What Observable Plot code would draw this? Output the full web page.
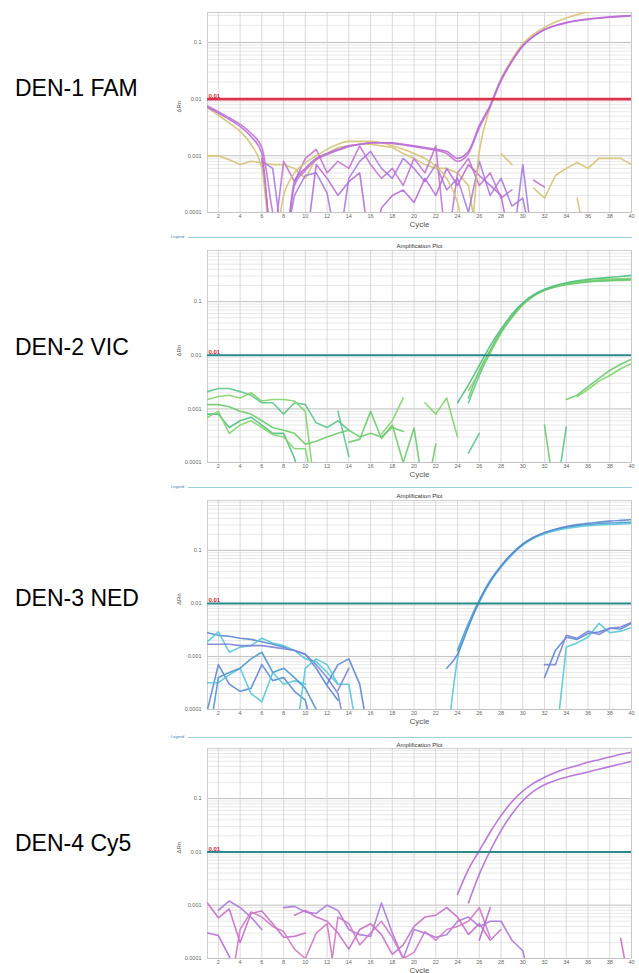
<!DOCTYPE html>
<html><head><meta charset="utf-8">
<script src="https://cdn.jsdelivr.net/npm/d3@7"></script>
<script src="https://cdn.jsdelivr.net/npm/@observablehq/plot@0.6"></script>
<style>
body{margin:0;background:#fff;font-family:"Liberation Sans",Arial,sans-serif;}
#wrap{position:relative;width:639px;height:973px;overflow:hidden;background:#fff;}
.lab{position:absolute;left:15px;font-size:23px;line-height:23px;color:#000;white-space:nowrap;}
.panel{position:absolute;left:170px;}
.sep{position:absolute;left:188px;width:444px;height:1px;background:#9fcde0;}
.leg{position:absolute;left:171px;font-size:4px;line-height:4px;color:#3f86b0;}
</style></head><body><div id="wrap"></div>
<script>
const _ = null;
const lo = 2e-5; // value below the axis floor (trace dips below 0.0001)

// shared axes
const xTicks = [2,4,6,8,10,12,14,16,18,20,22,24,26,28,30,32,34,36,38,40];
const yTicks = [0.0001, 0.001, 0.01, 0.1];
const threshold = [0.01];
const panelLabels = ["DEN-1 FAM", "DEN-2 VIC", "DEN-3 NED", "DEN-4 Cy5"];

// ---------- DEN-1 FAM (values start at cycle given in series list) ----------
const d1_purpleA = [0.0072,0.0057,0.0044,0.0033,0.0022,0.0011,lo,lo,0.00035,0.0006,0.0009,0.0011,0.0013,0.0015,0.0016,0.0017,0.0017,0.0017,0.0016,0.0015,0.0014,0.0013,0.0012,0.0009,0.0012,0.0034,0.0078,0.022,0.047,0.088,0.13,0.17,0.2,0.225,0.245,0.26,0.272,0.283,0.292,0.3];
const d1_purpleB = [0.0076,0.006,0.0047,0.0036,0.0025,0.0014,0.0001,lo,0.0003,0.00055,0.00085,0.00105,0.00125,0.00145,0.0016,0.00168,0.0017,0.00165,0.00155,0.00145,0.00135,0.00125,0.0011,0.0008,0.0011,0.0031,0.0074,0.021,0.046,0.086,0.128,0.168,0.198,0.222,0.241,0.256,0.268,0.278,0.286,0.293];
const d1_yellowA = [0.007,0.0052,0.0038,0.0027,0.0016,0.0006,lo,0.0002,0.0005,0.00075,0.001,0.0013,0.0016,0.0018,0.0018,0.0018,0.0017,0.0015,0.0013,0.0011,0.0009,0.00065,0.0004,0.00015,lo,0.0012,0.0072,0.023,0.05,0.095,0.14,0.185,0.23,0.27,0.31,0.345,0.375,0.4,0.415,0.425];
const d1_yellowB = [0.001,0.001,0.00085,0.0007,0.0008,0.00075,0.0007,0.0007,0.0006,0.0004,0.0009,0.0011,0.0014,0.0015,0.0016,0.0016,0.0015,0.0014,0.0011,0.0009,0.0007,0.0006,0.0006,0.0005,0.0003,lo,_,0.0011,0.0007,_,0.00027,0.00018,0.00045,0.0006,0.00076,0.0006,0.0009,0.0009,0.0009,0.0007];
const d1_yellowC = [0.00018, lo];
const d1_noiseA = [0.0009,lo,0.0008,0.00035,0.0009,0.0013,0.0005,0.0008,0.0006,0.0015,0.0007,0.0004,0.0006,0.0003,0.0009,0.0005,0.0015,lo,0.0005,0.0009,0.0003,0.0005,0.00018,0.00025];
const d1_noiseB = [0.0008,0.0006,lo,0.0002,0.00045,0.0005,0.00022,lo,0.0004,0.0008,0.0012,0.0006,0.0004,0.0009,0.0006,0.00035,0.0007,0.00025,0.0004,0.0001,0.0008,0.0002,0.0004,0.00013,0.00018,lo];
const d1_noiseC = [lo,0.0007,0.0004,0.0002,0.00035,0.0005,lo,0.00012,0.0002,0.00025,0.00015,0.0004,0.0002,0.0006,0.0003,0.0007,0.00045,0.0003,0.0002,lo];
const d1_noiseD = [lo,0.0007,lo];
const d1_noiseE = [0.00037,0.00028];

// ---------- DEN-2 VIC ----------
const d2_amp1 = [0.0013,0.0028,0.0065,0.015,0.031,0.058,0.095,0.135,0.17,0.2,0.225,0.245,0.26,0.273,0.284,0.295,0.31];
const d2_amp2 = [0.0016,0.0052,0.0125,0.028,0.053,0.09,0.13,0.163,0.188,0.207,0.222,0.232,0.24,0.245,0.249,0.253];
const d2_amp3 = [0.0022,0.0048,0.011,0.026,0.05,0.087,0.127,0.163,0.193,0.217,0.234,0.247,0.256,0.263,0.268,0.273];
const d2_amp4 = [0.0013,0.0042,0.0115,0.027,0.052,0.089,0.129,0.165,0.192,0.213,0.229,0.24,0.248,0.254,0.258,0.262];
const d2_late1 = [0.0015,0.0018,0.0026,0.0037,0.0052,0.0068,0.0085];
const d2_late2 = [0.0017,0.0023,0.0033,0.0042,0.0056,0.007];
const d2_s1 = [0.0005, lo];
const d2_s2 = [lo, 0.00046];
const d2_L1 = [0.0021,0.0024,0.0024,0.0021,0.0018,0.0013,0.0013,0.0008,0.0013,0.0012,0.00055,0.00045,0.0006,0.0004];
const d2_L2 = [0.0015,0.0017,0.0018,0.0016,0.002,0.0014,0.0015,0.0015,0.0014,0.0009,lo];
const d2_L3 = [0.0012,0.0012,0.0011,0.0009,0.0008,0.0006,0.00045,0.0004,0.00035,0.00022,0.00025,0.0003,0.00035,0.0004,0.0003,0.00035,0.0003,0.00045,0.00038];
const d2_L4 = [0.0008,0.0008,0.00045,0.0006,0.0007,0.0005,0.00035,0.00035,0.00012,lo];
const d2_L5 = [0.0007,0.0009,0.00035,0.0005,0.0006,0.00045,0.00033,0.0003,0.00018,0.00018,lo];
const d2_M1 = [0.0009,0.00013];
const d2_M2 = [0.00024,0.00027,0.0009,0.00028,0.0005,0.0001,0.00044,lo];
const d2_M3 = [0.00034,0.0006,0.0016];
const d2_M4 = [0.0013,0.0008,0.0016,0.0003];
const d2_M5 = [lo,0.00022];
const d2_M6 = [0.00015,0.00035];

// ---------- DEN-3 NED ----------
const d3_amp1 = [0.0006,0.0011,0.0036,0.011,0.026,0.05,0.085,0.13,0.175,0.215,0.25,0.28,0.305,0.325,0.34,0.355,0.367,0.378];
const d3_amp2 = [lo,0.0009,0.0038,0.0105,0.025,0.048,0.082,0.125,0.168,0.205,0.235,0.258,0.276,0.29,0.3,0.308,0.314,0.32];
const d3_amp3 = [0.0013,0.0042,0.0115,0.027,0.051,0.087,0.132,0.176,0.214,0.246,0.272,0.292,0.307,0.318,0.327,0.333,0.338];
const d3_late1 = [0.0004,0.0013,0.0023,0.0021,0.0027,0.0029,0.0034,0.0033,0.0042];
const d3_late2 = [lo,0.0015,0.0018,0.0023,0.0042,0.0028,0.003,0.0035];
const d3_late3 = [0.0007,0.0007,0.0025,0.0022,0.003,0.0026,0.0034,0.0036,0.0044];
const d3_N1 = [0.0028,0.0025,0.0024,0.0022,0.0021,0.0019,0.0017,0.0015,0.0013,0.0011,0.0006,0.00028,0.00015];
const d3_N2 = [0.0019,0.0029,0.0012,0.0015,0.0016,0.0022,0.0018,0.0016,0.0013,0.0009,0.0008,0.0005,0.0003,0.0003,lo];
const d3_N3 = [0.0017,0.0017,0.0017,0.0016,0.0016,0.0016,0.0015,0.0014,0.0013,0.0011,0.0007,0.0004,0.0002,lo];
const d3_N4 = [0.0001,0.0007,0.0003,0.00022,0.00025,0.0007,0.00035,0.0004,0.00022,0.00015,lo];
const d3_N5 = [0.00032,0.00032,0.00045,0.0006,0.0002,0.00014,0.0005,0.0003,0.00035,0.0003];
const d3_N6 = [lo,0.0004,0.0005,0.0006,0.0009,0.0012,0.0005,0.0006,0.0004,0.00025,0.0001,lo];
const d3_N7 = [0.00023,0.0006];
const d3_N8 = [0.0003,0.0007,0.0009,0.0003,lo];
const d3_N9 = [lo,0.0006,0.0009,0.0007,0.0003];

// ---------- DEN-4 Cy5 ----------
const d4_amp1 = [0.0016,0.0047,0.0105,0.0234,0.0479,0.0871,0.138,0.195,0.251,0.309,0.363,0.417,0.479,0.537,0.603,0.676,0.741];
const d4_amp2 = [0.0011,0.0038,0.0105,0.0251,0.0513,0.0912,0.138,0.182,0.219,0.251,0.282,0.316,0.355,0.398,0.447,0.501];
const d4_n1 = [0.0011,0.00058,0.00085,0.0002,0.0007,0.00078,0.00045,0.00025,0.00026,0.0003];
const d4_n2 = [0.0008,0.0012,0.0009,0.0006,0.00035];
const d4_n3 = [0.0003,0.00027,0.00011,lo];
const d4_n4 = [lo,0.00035,0.00075,0.0006,0.0004,0.00032,0.00015,0.0001,0.0003,0.00045,lo];
const d4_n5 = [0.0009,0.00095,0.00075,0.0007,0.001,0.0008,0.00035,0.00028,0.00026,0.0011,0.0003,0.0001,0.00035,0.0003,0.00025,0.00028,0.0005,0.0006,0.0004,0.0005,0.0005,0.00022,0.00014,lo];
const d4_n6 = [0.00065,0.0008,0.0006,0.0005,0.0003,0.00015,0.00035,0.00045,0.00028,0.00012,0.00018,0.0004,0.0006,0.00065,0.0009,0.0006,0.00028,0.00045,0.00022,0.00035];
const d4_n7 = [lo,0.0006,0.00045,0.00018,0.0003,0.0005,0.00025,0.0001,0.00013,0.00032,0.00022,0.00035,0.0004,0.0005,0.0009,0.00025];
const d4_n8 = [0.00022,0.0009];
const d4_n9 = [0.00024, lo];

// series lists: [values, first cycle, colour, smooth?]
const P = "#b86cd8", P2 = "#c474d0", P3 = "#a97be0", Y = "#d6c273";
const series1 = [
  [d1_yellowB,1,Y],[d1_yellowC,35,Y],
  [d1_noiseA,6,P2],[d1_noiseB,6,P3],[d1_noiseC,10,P],[d1_noiseD,29,P3],[d1_noiseE,31,P2],
  [d1_yellowA,1,Y,true],[d1_purpleB,1,P2,true],[d1_purpleA,1,P,true]
];
const G1 = "#6cca6c", G2 = "#5cc48c", G3 = "#82d46e", G4 = "#4fbf80";
const series2 = [
  [d2_L1,1,G2],[d2_L2,1,G3],[d2_L3,1,G1],[d2_L4,1,G4],[d2_L5,1,G3],
  [d2_M1,13,G2],[d2_M2,14,G1],[d2_M3,17,G3],[d2_M4,21,G3],[d2_M5,21,G1],[d2_M6,25,G2],
  [d2_s1,32,G1],[d2_s2,33,G2],[d2_late1,34,G1],[d2_late2,35,G3],
  [d2_amp4,25,G2,true],[d2_amp3,25,G3,true],[d2_amp2,25,G1,true],[d2_amp1,24,G4,true]
];
const B1 = "#5b86d4", B2 = "#56c6d8", B3 = "#4a98cc", B4 = "#7b84d8";
const series3 = [
  [d3_N1,1,B1],[d3_N2,1,B2],[d3_N3,1,B4],[d3_N4,1,B1],[d3_N5,1,B2],[d3_N6,1,B3],
  [d3_N7,13,B4],[d3_N8,12,B1],[d3_N9,9,B2],
  [d3_late1,32,B1],[d3_late2,33,B2],[d3_late3,32,B4],
  [d3_amp3,24,B3,true],[d3_amp2,23,B2,true],[d3_amp1,23,B1,true]
];
const M1 = "#b46ad6", M2 = "#c86ec8", M3 = "#a97ad9", M4 = "#d27ac6";
const series4 = [
  [d4_n1,1,M2],[d4_n2,2,M3],[d4_n3,1,M1],[d4_n4,3,M4],[d4_n5,8,M3],[d4_n6,9,M2],
  [d4_n7,12,M4],[d4_n8,26,M1],[d4_n9,39,M2],
  [d4_amp2,25,M1,true],[d4_amp1,24,M1,true]
];

function panel(series, o) {
  const minor = d3.range(-4, 0).flatMap(e => d3.range(2, 10).map(k => k * 10 ** e)).filter(v => v < o.yTop);
  const marks = [
    Plot.ruleY(minor, {stroke: "#dedede", strokeWidth: 0.7}),
    Plot.ruleY(yTicks, {stroke: "#b8b8b8", strokeWidth: 0.9}),
    Plot.ruleX(xTicks, {stroke: "#d0d0d0", strokeWidth: 0.8}),
    Plot.frame({stroke: "#c4c4c4", strokeWidth: 0.8}),
    Plot.axisX(xTicks, {tickSize: 0, tickPadding: 2, label: null, fill: "#666"}),
    Plot.axisY(yTicks, {tickSize: 0, tickPadding: 6, label: null, fill: "#666", tickFormat: d => String(d)}),
    ...series.map(([vals, from, color, smooth]) => Plot.line(vals, {
      x: (d, i) => from + i, y: d => d, stroke: color, strokeWidth: 1.6,
      strokeOpacity: 0.9, strokeLinejoin: "round", clip: true,
      curve: smooth ? "monotone-x" : "linear"
    })),
    Plot.ruleY(threshold, {stroke: o.thresh, strokeWidth: o.threshW}),
    Plot.text(threshold, {y: d => d, text: d => String(d), frameAnchor: "left", textAnchor: "start",
      dx: 1, dy: -3, fill: "#d01f3c", fontWeight: "bold", fontSize: 6}),
    Plot.text(["Cycle"], {text: d => d, frameAnchor: "bottom", dy: 14, fontSize: 8, fill: "#555"}),
    Plot.text(["ΔRn"], {text: d => d, frameAnchor: "left", dx: -28, rotate: -90, fontSize: 6, fill: "#555"})
  ];
  if (o.title) marks.push(Plot.text([o.title], {text: d => d, frameAnchor: "top", dy: o.titleDy, fontSize: 6, fill: "#333"}));
  return Plot.plot({
    width: 469, height: o.height, marginLeft: 37, marginRight: 8,
    marginTop: o.marginTop, marginBottom: o.height - o.marginTop - o.plotH,
    x: {domain: [1, 40]},
    y: {type: "log", domain: [1e-4, o.yTop]},
    style: {fontSize: "5.5px", fontFamily: "Liberation Sans, Arial, sans-serif", background: "#fff", overflow: "visible"},
    marks
  });
}

const wrap = document.getElementById("wrap");
const cfg = [
  {top: 0, series: series1, o: {height: 236, marginTop: 12, plotH: 200, yTop: 0.338, thresh: "#d8334a", threshW: 2.6}},
  {top: 237, series: series2, o: {height: 248, marginTop: 13, plotH: 212, yTop: 0.9, thresh: "#2b8b8b", threshW: 2, title: "Amplification Plot", titleDy: -7}},
  {top: 487, series: series3, o: {height: 248, marginTop: 13, plotH: 209, yTop: 0.87, thresh: "#2b8b8b", threshW: 2, title: "Amplification Plot", titleDy: -7}},
  {top: 737, series: series4, o: {height: 236, marginTop: 11, plotH: 210, yTop: 0.87, thresh: "#2b8b8b", threshW: 2, title: "Amplification Plot", titleDy: -6}}
];
cfg.forEach(c => {
  const div = document.createElement("div");
  div.className = "panel";
  div.style.top = c.top + "px";
  div.appendChild(panel(c.series, c.o));
  wrap.appendChild(div);
});
[237, 487, 737].forEach(y => {
  const s = document.createElement("div"); s.className = "sep"; s.style.top = y + "px"; wrap.appendChild(s);
  const l = document.createElement("div"); l.className = "leg"; l.style.top = (y - 2) + "px"; l.textContent = "Legend"; wrap.appendChild(l);
});
const labelCenters = [88, 347, 598, 843];
panelLabels.forEach((t, i) => {
  const d = document.createElement("div");
  d.className = "lab"; d.style.top = (labelCenters[i] - 11.3) + "px"; d.textContent = t;
  wrap.appendChild(d);
});
</script></body></html>
